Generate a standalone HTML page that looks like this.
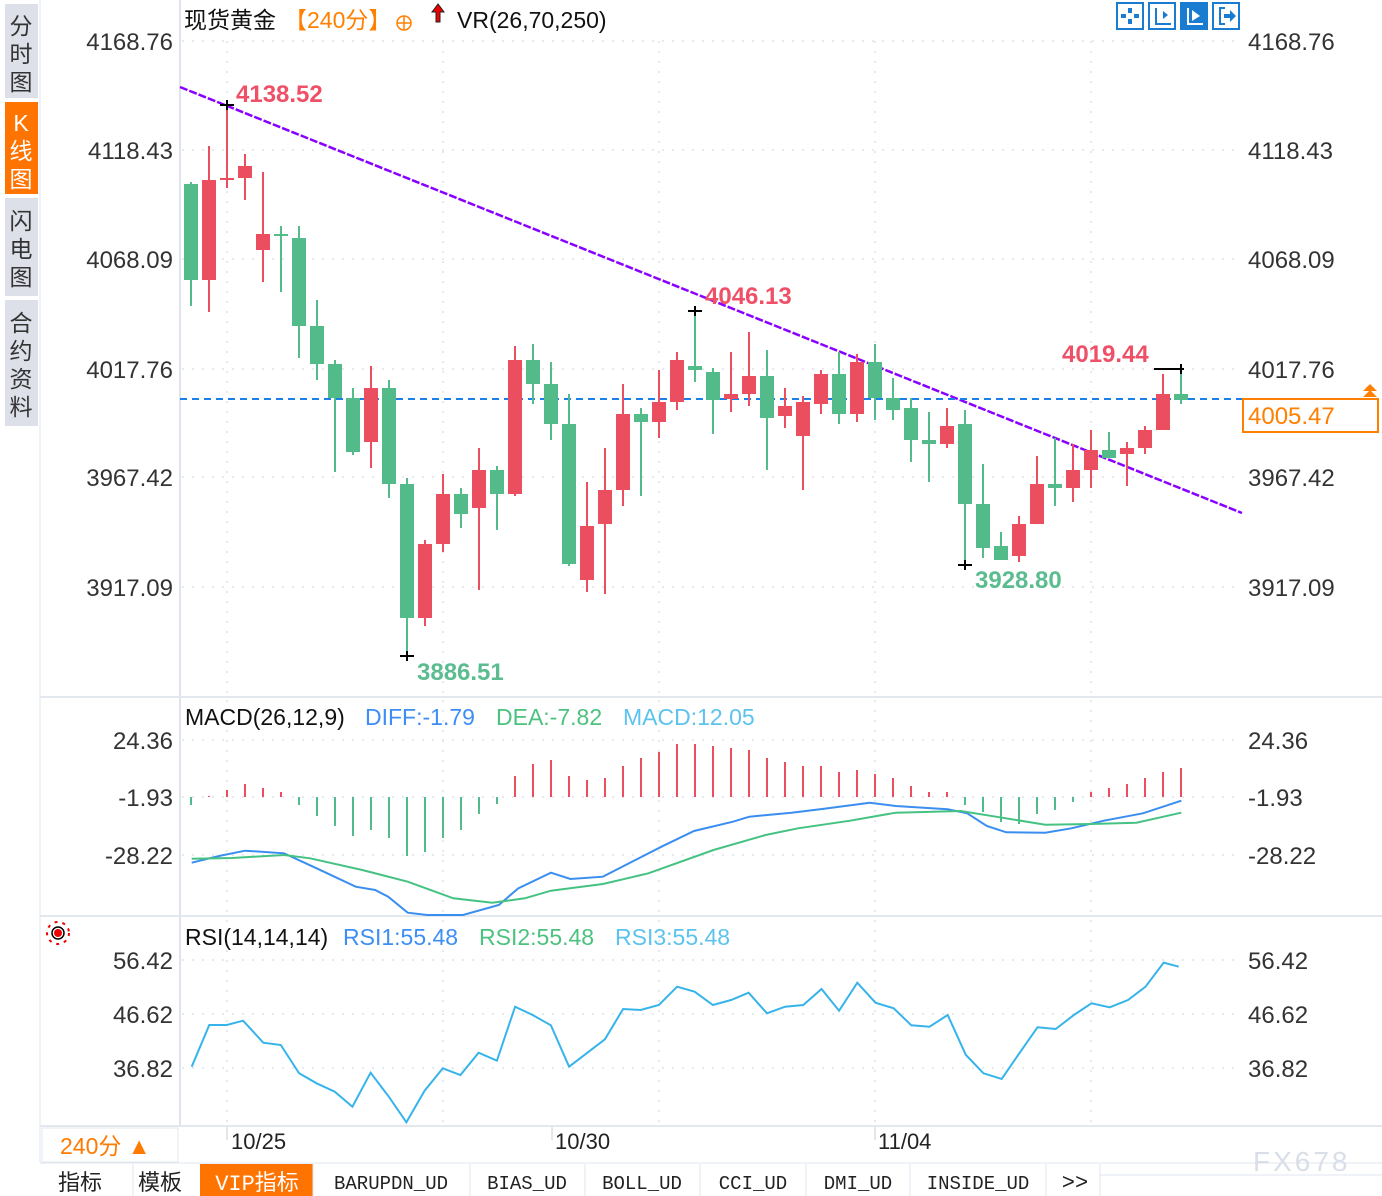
<!DOCTYPE html>
<html><head><meta charset="utf-8">
<style>
html,body{margin:0;padding:0;background:#fff;width:1382px;height:1196px;overflow:hidden}
svg{display:block;font-family:"Liberation Sans","Noto Sans CJK SC",sans-serif}
</style></head>
<body>
<svg id="s" width="1382" height="1196" xmlns="http://www.w3.org/2000/svg">
<rect width="1382" height="1196" fill="#fff"/>
<rect x="5" y="4" width="33" height="94" fill="#dde0e8"/>
<rect x="5" y="102" width="33" height="92" fill="#ff7300"/>
<rect x="5" y="198" width="33" height="98" fill="#dde0e8"/>
<rect x="5" y="300" width="33" height="126" fill="#dde0e8"/>
<g font-size="23" text-anchor="middle" fill="#333">
<text x="21" y="34">分</text><text x="21" y="62">时</text><text x="21" y="90">图</text>
<text x="21" y="131" fill="#fff">K</text><text x="21" y="159" fill="#fff">线</text><text x="21" y="187" fill="#fff">图</text>
<text x="21" y="229">闪</text><text x="21" y="257">电</text><text x="21" y="285">图</text>
<text x="21" y="331">合</text><text x="21" y="359">约</text><text x="21" y="387">资</text><text x="21" y="415">料</text>
</g>
<line x1="40" y1="0" x2="40" y2="1162" stroke="#dfe4ec"/>
<line x1="180" y1="0" x2="180" y2="1126" stroke="#dfe4ec" stroke-width="2"/>
<line x1="40" y1="697" x2="1382" y2="697" stroke="#e3e8ef" stroke-width="2"/>
<line x1="40" y1="916" x2="1382" y2="916" stroke="#e3e8ef" stroke-width="2"/>
<line x1="40" y1="1126" x2="1382" y2="1126" stroke="#e3e8ef" stroke-width="2"/>
<g id="grid" stroke="#e6e9ee" stroke-width="2" stroke-dasharray="2,8"></g>
<g id="main"></g>
<text x="184" y="28" font-size="23" fill="#111">现货黄金</text>
<text x="284" y="28" font-size="23" fill="#ff8000">【240分】</text>
<circle cx="404" cy="23" r="7" fill="none" stroke="#ff8000" stroke-width="1.5"/>
<line x1="397" y1="23" x2="411" y2="23" stroke="#ff8000" stroke-width="1.5"/>
<line x1="404" y1="16" x2="404" y2="30" stroke="#ff8000" stroke-width="1.5"/>
<path d="M438 4 L432 12 L436 12 L436 22 L440 22 L440 12 L444 12 Z" fill="#e00" stroke="#222" stroke-width="1"/>
<text x="457" y="28" font-size="23" fill="#111">VR(26,70,250)</text>
<g stroke="#1a7cd0" stroke-width="2" fill="#fff">
<rect x="1117" y="3" width="26" height="26"/><rect x="1149" y="3" width="26" height="26"/>
<rect x="1181" y="3" width="26" height="26" fill="#1a7cd0"/><rect x="1213" y="3" width="26" height="26"/>
</g>
<g fill="#1a7cd0"><rect x="1128" y="8" width="4" height="5"/><rect x="1128" y="19" width="4" height="5"/><rect x="1121" y="14" width="5" height="4"/><rect x="1134" y="14" width="5" height="4"/>
<rect x="1155" y="8" width="2" height="17"/><rect x="1155" y="23" width="16" height="2"/><path d="M1163 11 L1168 15 L1163 19Z"/>
<rect x="1219" y="7" width="2" height="18"/><rect x="1219" y="7" width="6" height="2"/><rect x="1219" y="23" width="6" height="2"/><path d="M1224 14 H1230 V10 L1236 16 L1230 22 V18 H1224Z"/></g>
<g fill="#fff"><rect x="1187" y="8" width="2" height="17"/><rect x="1187" y="23" width="16" height="2"/><path d="M1192 10 L1200 16 L1192 21Z"/></g>
<g font-size="24" fill="#333">
<g text-anchor="end">
<text x="173" y="50">4168.76</text><text x="173" y="159">4118.43</text><text x="173" y="268">4068.09</text><text x="173" y="378">4017.76</text><text x="173" y="486">3967.42</text><text x="173" y="596">3917.09</text>
<text x="173" y="749">24.36</text><text x="173" y="806">-1.93</text><text x="173" y="864">-28.22</text>
<text x="173" y="969">56.42</text><text x="173" y="1023">46.62</text><text x="173" y="1077">36.82</text>
</g>
<text x="1248" y="50">4168.76</text><text x="1248" y="159">4118.43</text><text x="1248" y="268">4068.09</text><text x="1248" y="378">4017.76</text><text x="1248" y="486">3967.42</text><text x="1248" y="596">3917.09</text>
<text x="1248" y="749">24.36</text><text x="1248" y="806">-1.93</text><text x="1248" y="864">-28.22</text>
<text x="1248" y="969">56.42</text><text x="1248" y="1023">46.62</text><text x="1248" y="1077">36.82</text>
</g>
<rect x="1243" y="399" width="135" height="33" fill="#fff" stroke="#ff7f00" stroke-width="2"/>
<text x="1248" y="424" font-size="24" fill="#ff7f00">4005.47</text>
<path d="M1363 391 L1370 384 L1377 391Z M1363 397 L1370 390 L1377 397Z" fill="#ff7f00"/>
<g font-size="24" font-weight="bold">
<text x="236" y="102" fill="#ef5067">4138.52</text>
<text x="705" y="304" fill="#ef5067">4046.13</text>
<text x="1062" y="362" fill="#ef5067">4019.44</text>
<text x="417" y="680" fill="#5bbd8f">3886.51</text>
<text x="975" y="588" fill="#5bbd8f">3928.80</text>
</g>
<g font-size="23">
<text x="185" y="725" fill="#111">MACD(26,12,9)</text><text x="365" y="725" fill="#3d8ef5">DIFF:-1.79</text><text x="496" y="725" fill="#4cc27f">DEA:-7.82</text><text x="623" y="725" fill="#5cc3ee">MACD:12.05</text>
<text x="185" y="945" fill="#111">RSI(14,14,14)</text><text x="343" y="945" fill="#3d8ef5">RSI1:55.48</text><text x="479" y="945" fill="#4cc27f">RSI2:55.48</text><text x="615" y="945" fill="#5cc3ee">RSI3:55.48</text>
</g>
<circle cx="58" cy="933" r="4" fill="#e00"/><circle cx="58" cy="933" r="6" fill="none" stroke="#000" stroke-width="1.5"/><circle cx="58" cy="933" r="11" fill="none" stroke="#e00" stroke-width="2" stroke-dasharray="3,5"/>
<rect x="42" y="1128" width="136" height="34" fill="#fff" stroke="#e3e8ef"/>
<text x="60" y="1154" font-size="23" fill="#ff7a00">240分 ▲</text>
<g stroke="#c8ced8"><line x1="227" y1="1127" x2="227" y2="1140"/><line x1="552" y1="1127" x2="552" y2="1140"/><line x1="875" y1="1127" x2="875" y2="1140"/></g>
<g font-size="22" fill="#222"><text x="231" y="1149">10/25</text><text x="555" y="1149">10/30</text><text x="878" y="1149">11/04</text></g>
<line x1="40" y1="1163" x2="1382" y2="1163" stroke="#dfe4ec"/>
<rect x="200" y="1164" width="113" height="32" fill="#ff7300"/>
<g stroke="#dfe4ec"><line x1="133" y1="1164" x2="133" y2="1196"/><line x1="313" y1="1164" x2="313" y2="1196"/><line x1="470" y1="1164" x2="470" y2="1196"/><line x1="585" y1="1164" x2="585" y2="1196"/><line x1="700" y1="1164" x2="700" y2="1196"/><line x1="806" y1="1164" x2="806" y2="1196"/><line x1="910" y1="1164" x2="910" y2="1196"/><line x1="1046" y1="1164" x2="1046" y2="1196"/><line x1="1100" y1="1164" x2="1100" y2="1196"/><line x1="1100" y1="1175" x2="1382" y2="1175"/></g>
<g font-size="22" fill="#222" text-anchor="middle" font-family="Liberation Mono,Noto Sans CJK SC,monospace">
<text x="80" y="1190">指标</text><text x="160" y="1190">模板</text><text x="257" y="1190" fill="#fff">VIP指标</text>
<g font-size="19" font-family="Liberation Sans Narrow,Liberation Mono,monospace"><text x="391" y="1189">BARUPDN_UD</text><text x="527" y="1189">BIAS_UD</text><text x="642" y="1189">BOLL_UD</text><text x="753" y="1189">CCI_UD</text><text x="858" y="1189">DMI_UD</text><text x="978" y="1189">INSIDE_UD</text></g><text x="1075" y="1189">&gt;&gt;</text>
</g>
<text x="1253" y="1171" font-size="28" fill="#d9dfe8" letter-spacing="3">FX678</text>
</svg>
<script>
var NS="http://www.w3.org/2000/svg";
function el(p,t,a){var e=document.createElementNS(NS,t);for(var k in a)e.setAttribute(k,a[k]);p.appendChild(e);return e;}
var g=document.getElementById('grid');
[41,150,259,369,477,587,740,797,855,960,1014,1068].forEach(function(y){el(g,'line',{x1:182,y1:y,x2:1242,y2:y});});
[[41,697],[700,916],[920,1126]].forEach(function(r){[227,443,659,875,1091].forEach(function(x){el(g,'line',{x1:x,y1:r[0],x2:x,y2:r[1]});});});
var m=document.getElementById('main');
var R="#eb4e5e",G="#53bb89";
var C=[[184,280,182,306,0],[180,280,146,312,1],[178,180,105,188,1],[166,178,154,200,1],[234,250,172,282,1],[234,236,226,292,0],[238,326,226,358,0],[326,364,300,380,0],[364,398,360,472,0],[398,452,388,455,0],[388,442,366,468,1],[388,484,380,498,0],[484,618,478,656,0],[544,618,540,626,1],[494,544,474,552,1],[494,514,488,528,0],[470,508,448,590,1],[470,494,466,530,0],[360,494,346,496,1],[360,384,344,404,0],
[384,424,362,440,0],[424,564,394,566,0],[526,580,482,592,1],[490,524,448,594,1],[414,490,384,506,1],[414,422,408,496,0],[402,422,370,438,1],[360,402,352,410,1],[366,370,311,382,0],[372,400,368,434,0],[394,399,352,412,1],[376,394,332,406,1],[376,418,350,470,0],[406,416,388,428,1],[402,436,396,490,1],[374,404,370,414,1],[374,414,352,424,0],[362,414,354,422,1],[362,398,344,420,0],[398,410,378,420,0],
[408,440,398,462,0],[440,444,412,482,0],[426,444,408,448,1],[424,504,410,565,0],[504,548,464,558,0],[546,560,532,560,0],[524,556,516,562,1],[484,524,456,524,1],[484,488,438,506,0],[470,488,444,502,1],[450,470,430,488,1],[450,458,432,458,0],[448,454,442,486,1],[430,448,426,454,1],[394,430,374,430,1],[394,400,369,404,0]];
el(m,'line',{x1:180,y1:87,x2:1242,y2:513,stroke:"#8a00ff","stroke-width":2.5,"stroke-dasharray":"8,2"});
el(m,'line',{x1:180,y1:399,x2:1242,y2:399,stroke:"#1a7fe8","stroke-width":2,"stroke-dasharray":"7,5"});
C.forEach(function(c,i){var x=191+i*18,col=c[4]?R:G;
el(m,'rect',{x:x-1,y:c[2],width:2,height:c[3]-c[2],fill:col});
var h=Math.max(c[1]-c[0],2);el(m,'rect',{x:x-7,y:c[0],width:14,height:h,fill:col});});
[[227,105],[695,311],[407,656],[965,565]].forEach(function(p){el(m,'line',{x1:p[0]-7,y1:p[1],x2:p[0]+7,y2:p[1],stroke:"#000","stroke-width":2});el(m,'line',{x1:p[0],y1:p[1]-5,x2:p[0],y2:p[1]+5,stroke:"#000","stroke-width":2});});
el(m,'line',{x1:1154,y1:369,x2:1184,y2:369,stroke:"#000","stroke-width":2});el(m,'line',{x1:1181,y1:364,x2:1181,y2:374,stroke:"#000","stroke-width":2});
var B=[805,796,790,784,788,792,805,816,826,836,830,838,856,852,838,830,814,804,776,764,760,776,780,778,766,758,752,744,744,746,748,750,758,762,766,766,772,770,774,778,786,792,792,805,812,822,824,814,810,802,792,788,784,778,772,768];
B.forEach(function(v,i){var x=191+i*18;var z=797;el(m,'line',{x1:x,y1:z,x2:x,y2:v,stroke:v<z?R:G,"stroke-width":2});});
function pl(pts,col,w){var s=pts.map(function(p){return (180+p[0]/1.537).toFixed(1)+","+(p[2]+p[1]/3).toFixed(1);}).join(" ");el(m,'polyline',{points:s,fill:"none",stroke:col,"stroke-width":w});}
function add(a,base){return a.map(function(p){return [p[0],p[1],base];});}
pl(add([[18,488],[60,468],[100,452],[160,460],[210,505],[270,560],[300,570],[320,590],[350,638],[380,645],[435,645],[490,615],[520,565],[570,518],[600,537],[650,530],[700,480],[740,440],[790,393],[850,365],[875,350],[940,338],[990,326],[1060,308],[1100,318],[1180,328],[1210,340],[1240,378],[1270,397],[1330,398],[1370,385],[1420,362],[1480,340],[1539,302]],700),"#3a8ef0",2);
pl(add([[18,476],[80,474],[160,465],[200,475],[280,510],[350,545],[420,595],[480,608],[530,595],[570,572],[650,552],[720,520],[820,450],[900,405],[950,385],[1030,362],[1100,338],[1200,333],[1260,352],[1330,374],[1400,372],[1470,368],[1539,338]],700),"#45c282",2);
pl(add([[18,440],[45,315],[72,315],[97,302],[128,368],[155,375],[183,460],[210,490],[238,515],[265,560],[293,458],[321,530],[348,607],[376,512],[404,445],[431,465],[459,398],[487,422],[515,260],[542,285],[570,316],[598,440],[625,400],[653,358],[681,267],[708,270],[736,255],[764,200],[791,215],[819,255],[847,240],[874,218],[902,280],[930,260],[958,255],[986,207],[1013,272],[1041,188],[1069,248],[1097,265],[1124,316],[1152,320],[1180,285],[1208,405],[1235,460],[1263,477],[1290,400],[1318,322],[1346,327],[1374,285],[1401,250],[1429,262],[1457,240],[1484,200],[1512,128],[1535,140]],920),"#36b4ea",2);
</script>
</body></html>
